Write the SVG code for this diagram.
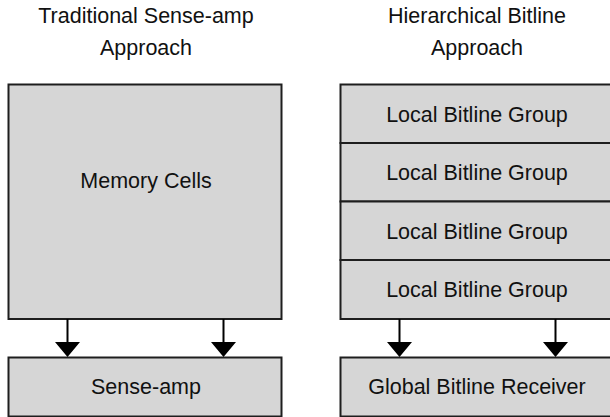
<svg xmlns="http://www.w3.org/2000/svg" width="610" height="417" viewBox="0 0 610 417">
<style>
.box{fill:#d6d6d6;stroke:#1e1e1e;stroke-width:2}
.t{font-family:"Liberation Sans",Arial,sans-serif;font-size:21.5px;fill:#111;text-anchor:middle}
.c{stroke:#000;stroke-width:2;fill:none}
.h{fill:#000;stroke:none}
</style>
<rect width="610" height="417" fill="#fff"/>
<g id="title-left">
<text class="t" x="146" y="23">Traditional Sense-amp</text>
<text class="t" x="146" y="55">Approach</text>
</g>
<g id="title-right">
<text class="t" x="477" y="23">Hierarchical Bitline</text>
<text class="t" x="477" y="55">Approach</text>
</g>
<g id="memory-cells">
<rect class="box" x="8.5" y="84.5" width="273" height="234.5"/>
<text class="t" x="146" y="188">Memory Cells</text>
</g>
<g id="sense-amp">
<rect class="box" x="8.5" y="357.5" width="273" height="59"/>
<text class="t" x="146" y="394">Sense-amp</text>
</g>
<g id="lbg1">
<rect class="box" x="340.5" y="84.5" width="273" height="58.5"/>
<text class="t" x="477" y="121.5">Local Bitline Group</text>
</g>
<g id="lbg2">
<rect class="box" x="340.5" y="143" width="273" height="58.5"/>
<text class="t" x="477" y="180">Local Bitline Group</text>
</g>
<g id="lbg3">
<rect class="box" x="340.5" y="201.5" width="273" height="58.5"/>
<text class="t" x="477" y="238.5">Local Bitline Group</text>
</g>
<g id="lbg4">
<rect class="box" x="340.5" y="260" width="273" height="59"/>
<text class="t" x="477" y="297">Local Bitline Group</text>
</g>
<g id="gbr">
<rect class="box" x="340.5" y="357.5" width="273" height="59"/>
<text class="t" x="477" y="394">Global Bitline Receiver</text>
</g>
<g id="connectors">
<path class="c" d="M67.5 319V343M223.5 319V343M399.5 319V343M555.5 319V343"/>
<path class="h" d="M55 342H80L67.5 357ZM211 342H236L223.5 357ZM387 342H412L399.5 357ZM543 342H568L555.5 357Z"/>
</g>
</svg>
